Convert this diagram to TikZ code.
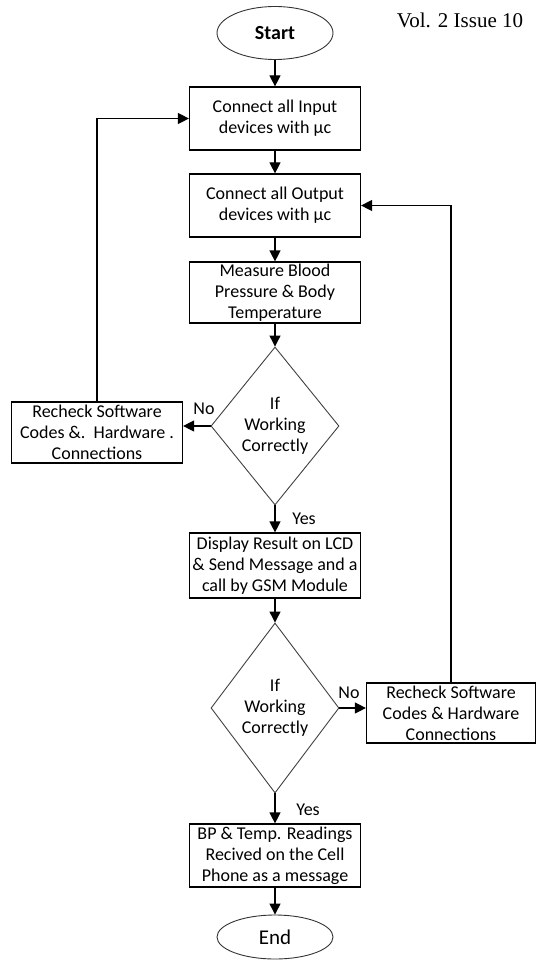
\documentclass[tikz,border=0pt]{standalone}
\usepackage{fontspec}
\setmainfont{Carlito}
\newfontfamily\volfont{Liberation Serif}
\usepackage{tikz}
\usetikzlibrary{shapes,shapes.geometric}
\usetikzlibrary{calc,arrows.meta,positioning}

\begin{document}
\begin{tikzpicture}
		[x=1pt,y=-1pt,line width=1.2pt,>={Triangle[length=11pt,width=11pt]},
		every node/.style={font=\fontsize{18}{21}\selectfont,align=center,inner sep=1pt},
		box/.style={draw,rectangle,minimum width=171pt,minimum height=63pt},
		term/.style={draw=black!80,line width=0.9pt,ellipse,minimum width=116pt,minimum height=50pt,font=\fontsize{21}{24}\selectfont},
		decision/.style={draw=black!75,line width=0.9pt,diamond,aspect=0.8,minimum width=128pt,minimum height=158pt},
		lbl/.style={draw=none,inner sep=0pt}]
		\useasboundingbox (0,0) rectangle (535,960);
		\node[lbl,font=\volfont\fontsize{21}{24}\selectfont] (vol) at (460,20) {Vol. 2 Issue 10};
		\node[term,minimum height=53pt,font=\fontsize{20}{24}\selectfont\bfseries] (start) at (275,33) {Start};
		\node[box] (in) at (275,118.5) {Connect all Input\\devices with µc};
		\node[box] (out) at (275,205.5) {Connect all Output\\devices with µc};
		\node[box,minimum height=61pt] (meas) at (275,292.5) {Measure Blood\\Pressure \& Body\\Temperature};
		\node[decision] (ifa) at (275,426) {If\\Working\\Correctly};
		\node[box,minimum height=61pt] (recha) at (97,432.5) {Recheck Software\\Codes \&.\ \ Hardware .\\Connections};
		\node[box,minimum height=65pt] (disp) at (275,565.5) {Display Result on LCD\\\& Send Message and a\\call by GSM Module};
		\node[decision,minimum height=170pt] (ifb) at (275,708) {If\\Working\\Correctly};
		\node[box,minimum width=169pt,minimum height=60pt] (rechb) at (451,713) {Recheck Software\\Codes \& Hardware\\Connections};
		\node[box] (bp) at (275,855.5) {BP \& Temp. Readings\\Recived on the Cell\\Phone as a message};
		\node[term,minimum height=44pt] (stop) at (275,937) {End};
		% labels on the decisions
		\node[lbl] (noa) at (204,409) {No};
		\node[lbl] (yesa) at (304,519) {Yes};
		\node[lbl] (nob) at (349,693) {No};
		\node[lbl] (yesb) at (308,810) {Yes};
		\path
		\foreach \startNode/\endNode in {start/in,in/out,out/meas,meas/ifa,ifa/disp,disp/ifb,ifb/bp,bp/stop}
		{
			(\startNode) edge[->] (\endNode)
		};
		\draw[->] (ifa.west) -- (ifa.west -| recha.east);
		\draw[->] (recha.north) |- (in.west);
		\draw[->] (ifb.east) -- (ifb.east -| rechb.west);
		\draw[->] (rechb.north) |- (out.east);
\end{tikzpicture}
\end{document}
